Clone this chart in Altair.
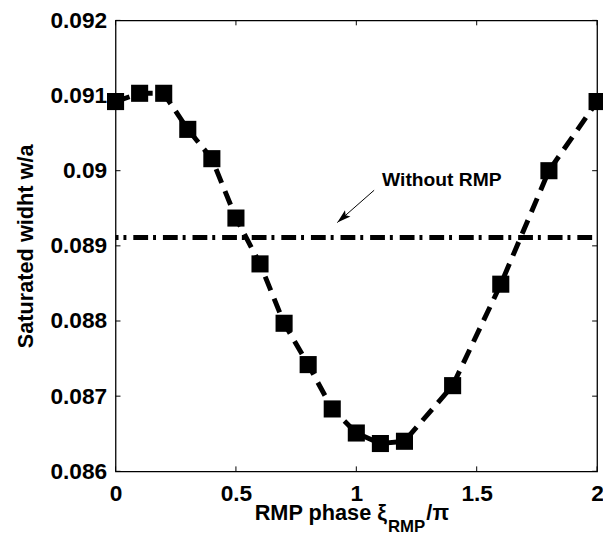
import altair as alt
import pandas as pd

# ---- data ----
phase = [0, 0.1, 0.2, 0.3, 0.4, 0.5, 0.6, 0.7, 0.8, 0.9, 1.0, 1.1, 1.2, 1.4, 1.6, 1.8, 2.0]
sat_width = [0.09092, 0.09103, 0.09103, 0.09055, 0.09016, 0.08937, 0.08876, 0.08797,
             0.08742, 0.08683, 0.08651, 0.08637, 0.08640, 0.08714, 0.08849, 0.09000, 0.09092]
no_rmp_x = [0, 2]
no_rmp_value = 0.08911

x_ticks = [0, 0.5, 1, 1.5, 2]
y_ticks = [0.086, 0.087, 0.088, 0.089, 0.090, 0.091, 0.092]

annot_text = "Without RMP"
annot_pos = (1.107, 0.08980)
arrow_start = (1.074, 0.08974)
arrow_tip = (0.921, 0.08931)

title_parts = ["RMP phase \u03be", "RMP", "/\u03c0"]

W, H = 488, 457
FONT = "Liberation Sans"

df = pd.DataFrame({"phase": phase, "w": sat_width})
df_base = pd.DataFrame({"phase": no_rmp_x, "w": [no_rmp_value] * len(no_rmp_x)})
df_xt = pd.DataFrame({"v": x_ticks})
df_yt = pd.DataFrame({"v": y_ticks})

xs = alt.Scale(domain=[0, 2], nice=False, zero=False)
ys = alt.Scale(domain=[0.086, 0.092], nice=False, zero=False)

x_axis = alt.Axis(values=x_ticks, format="~g", labelFont=FONT, labelFontSize=23,
                  labelFontWeight="bold", labelColor="black", ticks=False, domain=False,
                  grid=False, labelPadding=12, labelFlush=False, title=None)
y_axis = alt.Axis(values=y_ticks, format=".3~f", labelFont=FONT, labelFontSize=23,
                  labelFontWeight="bold", labelColor="black", ticks=False, domain=False,
                  grid=False, labelPadding=9, labelFlush=False,
                  title="Saturated widht w/a", titleFont=FONT, titleFontSize=22,
                  titleFontWeight="bold", titleColor="black", titlePadding=13)

base_line = alt.Chart(df_base).mark_line(
    color="black", strokeWidth=5, strokeDash=[15, 5, 3, 7], strokeDashOffset=12
).encode(
    x=alt.X("phase:Q", scale=xs, axis=x_axis),
    y=alt.Y("w:Q", scale=ys, axis=y_axis),
)

curve = alt.Chart(df).mark_line(color="black", strokeWidth=5, strokeDash=[15, 9]).encode(
    x=alt.X("phase:Q", scale=xs), y=alt.Y("w:Q", scale=ys)
)
pts = alt.Chart(df).mark_point(shape="square", filled=True, size=300, color="black",
                               opacity=1).encode(
    x=alt.X("phase:Q", scale=xs), y=alt.Y("w:Q", scale=ys)
)

# inward ticks on all four sides
tick_b = alt.Chart(df_xt).mark_rule(color="black", strokeWidth=1).encode(
    x=alt.X("v:Q", scale=xs), y=alt.value(H), y2=alt.value(H - 5))
tick_t = alt.Chart(df_xt).mark_rule(color="black", strokeWidth=1).encode(
    x=alt.X("v:Q", scale=xs), y=alt.value(0), y2=alt.value(5))
tick_l = alt.Chart(df_yt).mark_rule(color="black", strokeWidth=1).encode(
    y=alt.Y("v:Q", scale=ys), x=alt.value(0), x2=alt.value(5))
tick_r = alt.Chart(df_yt).mark_rule(color="black", strokeWidth=1).encode(
    y=alt.Y("v:Q", scale=ys), x=alt.value(W), x2=alt.value(W - 5))

# annotation
df_ann = pd.DataFrame({"x": [annot_pos[0]], "y": [annot_pos[1]], "t": [annot_text]})
ann_text = alt.Chart(df_ann).mark_text(
    font=FONT, fontSize=19.5, fontWeight="bold", align="left", baseline="alphabetic",
    color="black"
).encode(x=alt.X("x:Q", scale=xs), y=alt.Y("y:Q", scale=ys), text="t:N")

df_arrow = pd.DataFrame({"x": [arrow_start[0]], "y": [arrow_start[1]],
                         "x2": [arrow_tip[0]], "y2": [arrow_tip[1]]})
arrow_line = alt.Chart(df_arrow).mark_rule(color="black", strokeWidth=1).encode(
    x=alt.X("x:Q", scale=xs), y=alt.Y("y:Q", scale=ys), x2="x2:Q", y2="y2:Q")
arrow_head = alt.Chart(df_arrow).mark_point(
    shape="M0,0 L0.6,2 L0,1.6 L-0.6,2 Z", filled=True, size=196, angle=229,
    color="black", opacity=1
).encode(x=alt.X("x2:Q", scale=xs), y=alt.Y("y2:Q", scale=ys))

# x-axis title with subscript
df_one = pd.DataFrame({"a": title_parts[:1], "b": title_parts[1:2], "c": title_parts[2:3]})
t1 = alt.Chart(df_one).mark_text(font=FONT, fontSize=22, fontWeight="bold", align="right",
                                 baseline="alphabetic", color="black").encode(
    x=alt.value(275), y=alt.value(H + 49), text="a:N")
t2 = alt.Chart(df_one).mark_text(font=FONT, fontSize=17, fontWeight="bold", align="left",
                                 baseline="alphabetic", color="black").encode(
    x=alt.value(276), y=alt.value(H + 61), text="b:N")
t3 = alt.Chart(df_one).mark_text(font=FONT, fontSize=22, fontWeight="bold", align="left",
                                 baseline="alphabetic", color="black").encode(
    x=alt.value(315), y=alt.value(H + 49), text="c:N")

chart = alt.layer(
    base_line, curve, pts, tick_b, tick_t, tick_l, tick_r,
    arrow_line, arrow_head, ann_text, t1, t2, t3
).properties(
    width=W, height=H,
    autosize=alt.AutoSizeParams(type="none"),
    padding={"left": 109, "top": 9, "right": 6, "bottom": 63},
    background="white",
).configure_view(
    stroke="black", strokeWidth=1.3
)

chart.save("out.html", embed_options={"renderer": "svg", "actions": False})
